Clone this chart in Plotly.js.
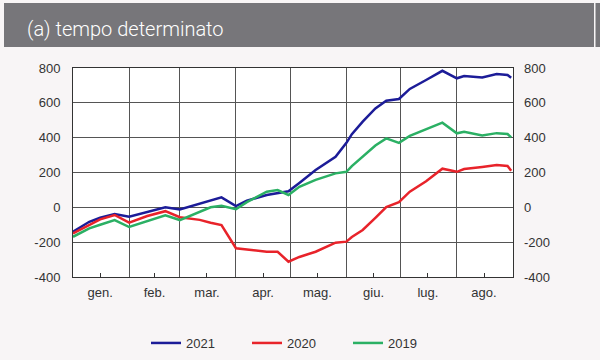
<!DOCTYPE html>
<html>
<head>
<meta charset="utf-8">
<script src="https://cdn.plot.ly/plotly-3.0.1.min.js"></script>
<style>
  html, body { margin: 0; padding: 0; background: #f8f5f6; }
  #chart { width: 600px; height: 360px; }
</style>
</head>
<body>
<div id="chart"></div>
<script>
const dates = ['2021-01-01','2021-01-10','2021-01-16','2021-01-24','2021-02-01','2021-02-11','2021-02-21','2021-03-01','2021-03-12','2021-03-18','2021-03-24','2021-04-01','2021-04-07','2021-04-18','2021-04-24','2021-04-30','2021-05-06','2021-05-15','2021-05-26','2021-06-01','2021-06-04','2021-06-10','2021-06-17','2021-06-23','2021-06-30','2021-07-06','2021-07-15','2021-07-24','2021-08-01','2021-08-05','2021-08-15','2021-08-23','2021-08-29','2021-08-31'];
const y2021 = [-140,-83,-60,-38,-54,-25,0,-12,23,40,57,7,38,71,80,92,140,214,290,370,420,492,568,612,622,680,731,784,741,754,746,765,760,744];
const y2020 = [-150,-100,-69,-44,-88,-50,-22,-57,-72,-88,-102,-235,-241,-255,-255,-312,-285,-255,-203,-197,-170,-130,-60,2,30,90,150,222,204,220,232,243,237,210];
const y2019 = [-169,-121,-100,-73,-113,-80,-46,-73,-28,0,9,-11,30,90,99,71,118,158,195,204,237,291,355,396,370,410,450,486,425,434,412,426,421,402];

const monthTicks = ['2021-01-16','2021-02-15','2021-03-16','2021-04-16','2021-05-16','2021-06-16','2021-07-16','2021-08-16'];
const monthLabels = ['gen.','feb.','mar.','apr.','mag.','giu.','lug.','ago.'];
const yTickVals = [-400,-200,0,200,400,600,800];
const yTickLabels = ['-400','-200','0','200','400','600','800'];
const seriesNames = ['2021','2020','2019'];
const seriesColors = ['#1c1c98','#e8232a','#2bb064'];
const titleText = '(a) tempo determinato';

const seriesData = [y2021, y2020, y2019];
const traces = seriesData.map((vals, i) => ({
  x: dates, y: vals, type: 'scatter', mode: 'lines',
  name: seriesNames[i],
  line: {color: seriesColors[i], width: 2.5}
}));
traces.push({x: [dates[0]], y: [0], yaxis: 'y2', mode: 'lines', showlegend: false, hoverinfo: 'skip', line: {width: 0}});

const tickFont = {family: 'Liberation Sans, Arial, sans-serif', size: 13, color: '#333'};
const L = 73, R = 513, T = 68, B = 277, W = 600, H = 360;
const px = v => (v - L) / (R - L);
const py = v => (B - v) / (B - T);

const layout = {
  width: W, height: H,
  margin: {l: L, r: W - R, t: T, b: H - B, pad: 0, autoexpand: false},
  paper_bgcolor: '#f8f5f6',
  plot_bgcolor: '#ffffff',
  showlegend: true,
  legend: {
    orientation: 'h', x: px(146), xanchor: 'left', y: py(343), yanchor: 'middle',
    font: tickFont, bgcolor: 'rgba(0,0,0,0)', entrywidth: 56, entrywidthmode: 'pixels',
    itemwidth: 30, tracegroupgap: 0
  },
  xaxis: {
    type: 'date', range: ['2021-01-01', '2021-09-01'],
    tickvals: monthTicks, ticktext: monthLabels,
    ticks: 'inside', ticklen: 4, tickcolor: '#333',
    showgrid: false, zeroline: false,
    showline: true, mirror: true, linecolor: '#333', linewidth: 1,
    tickfont: tickFont, ticklabelstandoff: 3,
    minor: {dtick: 'M1', tick0: '2021-01-01', showgrid: true, gridcolor: '#555', gridwidth: 1, ticks: ''}
  },
  yaxis: {
    range: [-400, 800], tickvals: yTickVals, ticktext: yTickLabels,
    showgrid: true, gridcolor: '#555', gridwidth: 1, zeroline: false,
    showline: true, mirror: true, linecolor: '#333', linewidth: 1,
    ticks: '', tickfont: tickFont, ticklabelstandoff: 9
  },
  yaxis2: {
    range: [-400, 800], tickvals: yTickVals, ticktext: yTickLabels, overlaying: 'y', side: 'right',
    showgrid: false, zeroline: false, showline: false,
    ticks: '', tickfont: tickFont, ticklabelstandoff: 10
  },
  shapes: [
    {type: 'rect', xref: 'paper', yref: 'paper', x0: px(4), x1: px(594), y0: py(47), y1: py(3), fillcolor: '#77767a', line: {width: 0}},
    {type: 'rect', xref: 'paper', yref: 'paper', x0: px(595.5), x1: px(601), y0: py(47), y1: py(3), fillcolor: '#77767a', line: {width: 0}}
  ],
  annotations: [
    {text: titleText, xref: 'paper', yref: 'paper', x: px(25), y: py(29), xanchor: 'left', yanchor: 'middle', showarrow: false,
     font: {family: 'Roboto, sans-serif', size: 20, color: '#ffffff', weight: 300}}
  ]
};

Plotly.newPlot('chart', traces, layout, {displayModeBar: false, staticPlot: true});
</script>
</body>
</html>
